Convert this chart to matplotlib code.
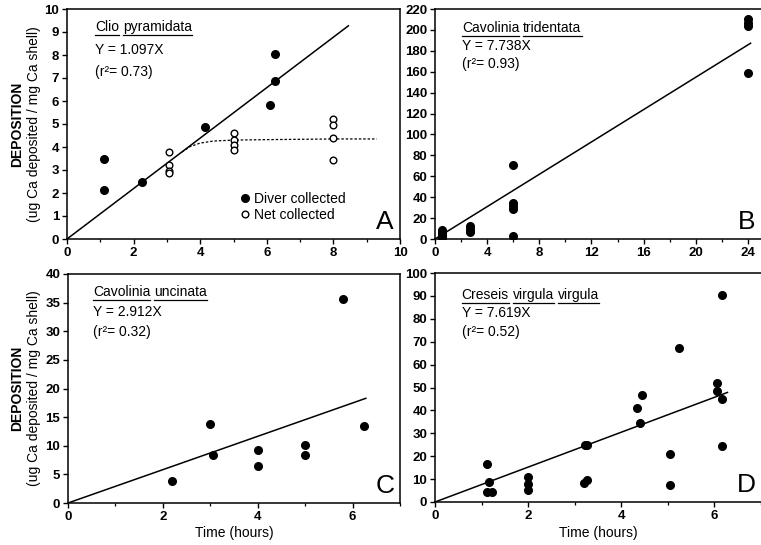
import numpy as np
import matplotlib
matplotlib.use('Agg')
import matplotlib.pyplot as plt
from matplotlib.ticker import MultipleLocator

plt.rcParams['font.family'] = ['Liberation Sans', 'DejaVu Sans']

# Panel A - Clio pyramidata
a_diver_x = [1.1, 1.1, 2.25, 4.15, 6.1, 6.25, 6.25]
a_diver_y = [3.48, 2.15, 2.48, 4.85, 5.82, 6.86, 8.04]
a_net_x = [3.05, 3.05, 3.05, 3.05, 5.0, 5.0, 5.0, 5.0, 8.0, 8.0, 8.0, 8.0]
a_net_y = [3.8, 3.2, 2.95, 2.85, 4.6, 4.3, 4.07, 3.85, 5.2, 4.95, 4.38, 3.45]
a_curve_x = [3.45, 3.7, 4.0, 4.4, 5.0, 6.0, 8.0, 9.3]
a_curve_y = [3.78, 4.02, 4.17, 4.26, 4.3, 4.32, 4.35, 4.35]

# Panel B - Cavolinia tridentata
b_x = [0.5, 0.5, 0.5, 0.5, 0.5, 2.65, 2.65, 2.65, 6.0, 6.0, 6.0, 6.0, 6.0, 24.0, 24.0, 24.0, 24.0]
b_y = [1, 3, 5, 7, 9, 7, 10, 12, 70.5, 34.5, 31.5, 28.5, 3, 210, 207, 204, 159]

# Panel C - Cavolinia uncinata
c_x = [2.2, 3.0, 3.05, 4.0, 4.0, 5.0, 5.0, 5.8, 6.25]
c_y = [3.9, 13.8, 8.3, 9.2, 6.4, 10.2, 8.4, 35.6, 13.4]

# Panel D - Creseis virgula virgula
d_x = [1.12, 1.15, 1.12, 1.23, 2.0, 2.0, 2.0, 3.22, 3.26, 3.19, 3.27, 4.33, 4.45, 4.4,
       5.05, 5.05, 5.24, 6.05, 6.05, 6.17, 6.17, 6.17]
d_y = [16.7, 8.9, 4.2, 4.2, 10.9, 8.0, 5.1, 24.8, 25.0, 8.3, 9.5, 41.0, 46.7, 34.5,
       21.0, 7.6, 67.2, 51.8, 48.5, 45.1, 24.3, 90.4]

slopes = [1.097, 7.738, 2.912, 7.619]
r2 = ['0.73', '0.93', '0.32', '0.52']
line_end = [8.45, 24.2, 6.28, 6.28]
species = [['Clio', 'pyramidata'], ['Cavolinia', 'tridentata'],
           ['Cavolinia', 'uncinata'], ['Creseis', 'virgula', 'virgula']]
letters = ['A', 'B', 'C', 'D']
xlims = [10, 25, 7, 7]
ylims = [10, 220, 40, 100]
xmajor = [2, 4, 2, 2]
ymajor = [1, 20, 5, 10]

W, H = 761, 545
fig = plt.figure(figsize=(W / 100, H / 100), dpi=100)

# axes boxes in pixels: left, top, right, bottom
boxes = [(67, 9, 400, 239), (435, 9, 761, 239), (68, 274, 400, 503), (435, 273, 761, 502)]
axes = []
for (l, t, r, b) in boxes:
    axes.append(fig.add_axes([l / W, (H - b) / H, (r - l) / W, (b - t) / H]))

for i, ax in enumerate(axes):
    ax.set_xlim(0, xlims[i])
    ax.set_ylim(0, ylims[i])
    ax.xaxis.set_major_locator(MultipleLocator(xmajor[i]))
    ax.xaxis.set_minor_locator(MultipleLocator(xmajor[i] / 2))
    ax.yaxis.set_major_locator(MultipleLocator(ymajor[i]))
    ax.tick_params(which='major', direction='out', length=3.5, width=1, labelsize=9.5, pad=2)
    ax.tick_params(which='minor', direction='out', length=2.5, width=0.9)
    for lab in ax.get_xticklabels() + ax.get_yticklabels():
        lab.set_fontweight('bold')
    for s in ax.spines.values():
        s.set_linewidth(1.1)
    if i in (1, 3):
        ax.spines['right'].set_visible(False)

    # regression line through the origin
    xs = np.array([0, line_end[i]])
    ax.plot(xs, slopes[i] * xs, color='black', lw=1.1, zorder=2)

    ax.text(0.955, 0.075, letters[i], transform=ax.transAxes, fontsize=19,
            ha='center', va='center')

axes[0].plot(a_diver_x, a_diver_y, 'o', color='black', ms=5.5, label='Diver collected', zorder=3)
axes[0].plot(a_net_x, a_net_y, 'o', mfc='white', mec='black', mew=1.0, ms=4.8,
             label='Net collected', zorder=3)
axes[0].plot(a_curve_x, a_curve_y, color='black', lw=0.9, ls=(0, (2, 1.5)), zorder=2)
axes[1].plot(b_x, b_y, 'o', color='black', ms=5.5, zorder=3)
axes[2].plot(c_x, c_y, 'o', color='black', ms=5.5, zorder=3)
axes[3].plot(d_x, d_y, 'o', color='black', ms=5.5, zorder=3)

axes[0].legend(loc='lower left', bbox_to_anchor=(0.49, 0.045), frameon=False,
               handletextpad=0.05, labelspacing=0.15, borderpad=0, handlelength=1.2,
               fontsize=10)

# species names (each word underlined), then the equations
title_pos = [(0.084, 0.92), (0.083, 0.917), (0.075, 0.92), (0.082, 0.904)]
line_gap = [0.097, 0.078, 0.087, 0.08]
fig.canvas.draw()
renderer = fig.canvas.get_renderer()

# width of one space at this size
probe1 = fig.text(0, 0, 'a a', fontsize=10)
probe2 = fig.text(0, 0, 'aa', fontsize=10)
space = probe1.get_window_extent(renderer).width - probe2.get_window_extent(renderer).width
probe1.remove()
probe2.remove()

for i, ax in enumerate(axes):
    x0, y0 = title_pos[i]
    xpix, ypix = ax.transAxes.transform((x0, y0))
    for word in species[i]:
        t = fig.text(xpix / W, ypix / H, word, fontsize=10, ha='left', va='center')
        bb = t.get_window_extent(renderer)
        fig.add_artist(plt.Line2D([bb.x0 / W, bb.x1 / W], [(bb.y0 - 1) / H] * 2,
                                  color='black', lw=0.9))
        xpix = bb.x1 + space
    ax.text(x0, y0 - line_gap[i], 'Y = %.3fX' % slopes[i], transform=ax.transAxes,
            fontsize=10, ha='left', va='center')
    ax.text(x0, y0 - 2 * line_gap[i], '(r²= %s)' % r2[i], transform=ax.transAxes,
            fontsize=10, ha='left', va='center')

for yc in [(H - 124) / H, (H - 388) / H]:
    fig.text(17 / W, yc, 'DEPOSITION', rotation=90, fontsize=10, fontweight='bold',
             ha='center', va='center')
    fig.text(34 / W, yc, '(ug Ca deposited / mg Ca shell)', rotation=90, fontsize=10,
             ha='center', va='center')

for xc in [234 / W, 598 / W]:
    fig.text(xc, (H - 533) / H, 'Time (hours)', fontsize=10, ha='center', va='center')

fig.savefig('out.png', dpi=100)
